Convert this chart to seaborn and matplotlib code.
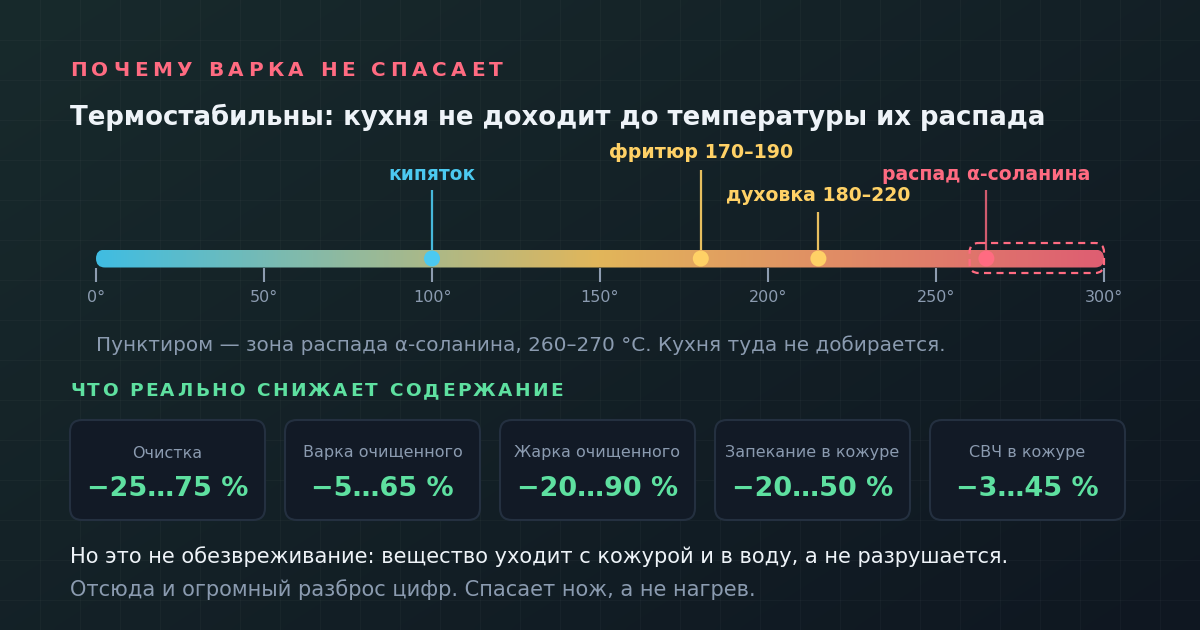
import numpy as np
import pandas as pd
import matplotlib
matplotlib.use("Agg")
import matplotlib.pyplot as plt
import seaborn as sns
from matplotlib.patches import FancyBboxPatch
from matplotlib.colors import LinearSegmentedColormap, to_rgb
from matplotlib import font_manager
from matplotlib.ft2font import FT2Font

# ---------------- data ----------------
eyebrow = "ПОЧЕМУ ВАРКА НЕ СПАСАЕТ"
title = "Термостабильны: кухня не доходит до температуры их распада"
note = "Пунктиром — зона распада α-соланина, 260–270 °C. Кухня туда не добирается."
section = "ЧТО РЕАЛЬНО СНИЖАЕТ СОДЕРЖАНИЕ"
footer1 = "Но это не обезвреживание: вещество уходит с кожурой и в воду, а не разрушается."
footer2 = "Отсюда и огромный разброс цифр. Спасает нож, а не нагрев."

scale_ticks = [0, 50, 100, 150, 200, 250, 300]
tick_labels = ["0°", "50°", "100°", "150°", "200°", "250°", "300°"]

point_names = ["кипяток", "фритюр 170–190", "духовка 180–220", "распад α-соланина"]
point_temps = [100, 180, 215, 265]
zone_range = [260, 300]

card_labels = ["Очистка", "Варка очищенного", "Жарка очищенного",
               "Запекание в кожуре", "СВЧ в кожуре"]
card_values = ["−25…75 %", "−5…65 %", "−20…90 %", "−20…50 %", "−3…45 %"]

# ---------------- style ----------------
W, H, DPI = 1200, 630, 100
PINK = "#ff6b81"
YELLOW = "#ffd166"
CYAN = "#4cc9f0"
GREEN = "#5ee0a0"
GRAY = "#8b9bb0"
WHITE = "#eef3f8"
point_colors = [CYAN, YELLOW, YELLOW, PINK]
label_y = [174, 153, 195, 174]     # pixel y of label centres
stem_top = [190, 170, 212, 190]
label_w = [87, 184, 185, 209]

sns.set_theme(style="white")
plt.rcParams["font.family"] = ["DejaVu Sans"]

fig = plt.figure(figsize=(W / DPI, H / DPI), dpi=DPI)
fig.patch.set_facecolor("#131f26")

ax = fig.add_axes([0, 0, 1, 1])
ax.set_xlim(0, W)
ax.set_ylim(H, 0)
ax.axis("off")

# background gradient (top-left -> bottom-right)
c1 = np.array(to_rgb("#182a2c"))
c2 = np.array(to_rgb("#0f1721"))
gx, gy = np.meshgrid(np.linspace(0, 1, 240), np.linspace(0, 1, 126))
tt = np.clip((gx * 0.55 + gy * 0.45), 0, 1)[..., None]
bg = c1 * (1 - tt) + c2 * tt
ax.imshow(bg, extent=(0, W, H, 0), aspect="auto", zorder=0, interpolation="bicubic")
for gxv in range(40, W, 40):
    ax.plot([gxv, gxv], [0, H], color=(1, 1, 1, 0.028), lw=1, zorder=0.5)
for gyv in range(40, H, 40):
    ax.plot([0, W], [gyv, gyv], color=(1, 1, 1, 0.028), lw=1, zorder=0.5)

# ---------------- font helpers ----------------
_font_cache = {}
def _font(weight):
    if weight not in _font_cache:
        path = font_manager.findfont(font_manager.FontProperties(family="DejaVu Sans", weight=weight))
        _font_cache[weight] = FT2Font(path)
    return _font_cache[weight]

def advances(s, px, weight):
    f = _font(weight)
    f.set_size(px * 72 / DPI, DPI)
    return [f.load_char(ord(ch)).linearHoriAdvance / 65536.0 for ch in s]

def width(s, px, weight):
    return sum(advances(s, px, weight))

def fit_px(s, target, weight):
    return 10 * target / width(s, 10, weight)

def text_px(x, y, s, px, color, weight="normal", ha="left", **kw):
    return ax.text(x, y, s, fontsize=px * 72 / DPI, color=color, fontweight=weight,
                   ha=ha, va="center", zorder=5, **kw)

def spaced(x, y, s, px, color, total_w, weight="bold"):
    adv = advances(s, px, weight)
    sp = (total_w - sum(adv)) / (len(s) - 1)
    cx = x
    for ch, a in zip(s, adv):
        if ch != " ":
            text_px(cx, y, ch, px, color, weight)
        cx += a + sp

# ---------------- headings ----------------
spaced(70, 71, eyebrow, 20, PINK, 433)
text_px(70, 117, title, fit_px(title, 977, "bold"), WHITE, "bold")

# ---------------- temperature scale ----------------
x0, x1 = 96, 1104
axs = fig.add_axes([x0 / W, 1 - 320 / H, (x1 - x0) / W, (320 - 130) / H])
axs.set_xlim(0, 300)
axs.set_ylim(320, 130)
axs.patch.set_alpha(0)
for s in axs.spines.values():
    s.set_visible(False)
axs.set_yticks([])

ppd = (x1 - x0) / 300.0           # pixels per degree
asp = ppd                          # y-units (px) per x-unit (deg)

# gradient bar
cmap = LinearSegmentedColormap.from_list(
    "heat", [(0, "#40bde2"), (0.5, "#e2b65a"), (1.0, "#de5e72")])
bar_y0, bar_y1 = 249.5, 267.5
grad = np.linspace(0, 1, 600)[None, :]
im = axs.imshow(grad, cmap=cmap, extent=(scale_ticks[0], scale_ticks[-1], bar_y1, bar_y0),
                aspect="auto", zorder=2, interpolation="bilinear")
clip = FancyBboxPatch((scale_ticks[0], bar_y0), scale_ticks[-1] - scale_ticks[0], bar_y1 - bar_y0,
                      boxstyle=f"round,pad=0,rounding_size={9 / ppd}", mutation_aspect=asp,
                      transform=axs.transData, facecolor="none", edgecolor="none")
axs.add_patch(clip)
im.set_clip_path(clip)

# danger zone (dashed)
zone = FancyBboxPatch((zone_range[0], 243), zone_range[1] - zone_range[0], 30,
                      boxstyle=f"round,pad=0,rounding_size={9 / ppd}", mutation_aspect=asp,
                      facecolor="none", edgecolor=PINK, lw=1.6, ls=(0, (3.2, 2.4)), zorder=4,
                      clip_on=False)
axs.add_patch(zone)

# stems + labels
for name, t, c, ly, st, lw_ in zip(point_names, point_temps, point_colors, label_y, stem_top, label_w):
    axs.plot([t, t], [st, 250], color=c, lw=1.6, alpha=0.8 if c == PINK else 0.9,
             zorder=3, solid_capstyle="butt")
    axs.text(t, ly, name, ha="center", va="center", color=c, fontweight="bold",
             fontsize=fit_px(name, lw_, "bold") * 72 / DPI, zorder=5, clip_on=False)

pts = pd.DataFrame({"temp": point_temps, "y": [258.5] * len(point_temps), "name": point_names})
sns.scatterplot(data=pts, x="temp", y="y", hue="name", palette=dict(zip(point_names, point_colors)),
                s=(16 * 72 / DPI) ** 2, edgecolor="none", legend=False, ax=axs, zorder=6,
                clip_on=False)

# ticks
axs.spines["bottom"].set_position(("data", 268))
axs.set_xticks(scale_ticks)
axs.set_xticklabels(tick_labels)
axs.tick_params(axis="x", bottom=True, direction="out", length=14 * 72 / DPI,
                width=1.5, color="#8d9cb0", pad=8 * 72 / DPI, labelsize=16 * 72 / DPI,
                labelcolor=GRAY)
axs.set_xlabel("")
axs.set_ylabel("")

# ---------------- note + section ----------------
text_px(96, 345, note, fit_px(note, 847, "normal"), GRAY)
spaced(70, 391, section, 18.5, GREEN, 493)

# ---------------- cards ----------------
card_x = [70, 285, 500, 715, 930]
cw, ch_, cy = 195, 100, 420
for lab, val, cx in zip(card_labels, card_values, card_x):
    box = FancyBboxPatch((cx, cy), cw, ch_, boxstyle="round,pad=0,rounding_size=12",
                         facecolor="#121a26", edgecolor="#243040", lw=1.5, zorder=3)
    ax.add_patch(box)
    text_px(cx + cw / 2, 453, lab, 16, GRAY, ha="center")
    text_px(cx + cw / 2, 489, val, 27, GREEN, "bold", ha="center")

# ---------------- footer ----------------
text_px(70, 557, footer1, fit_px(footer1, 942, "normal"), WHITE)
text_px(70, 590, footer2, fit_px(footer2, 688, "normal"), GRAY)

fig.savefig("out.png", dpi=DPI, facecolor=fig.get_facecolor())
